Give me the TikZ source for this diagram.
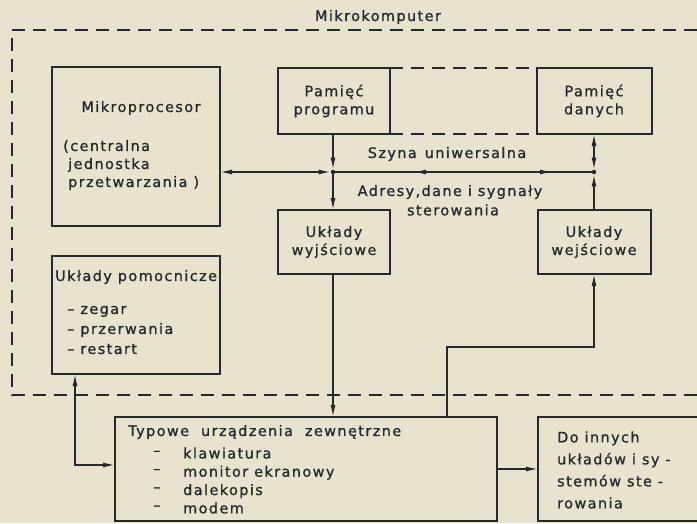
\documentclass[tikz,border=0pt]{standalone}
\usepackage{fontspec}
\setmainfont{DejaVu Sans}[LetterSpace=10,FakeBold=1]
\usetikzlibrary{arrows.meta}
\definecolor{paper}{RGB}{231,227,207}
\definecolor{ink}{RGB}{40,40,40}
\begin{document}
\begin{tikzpicture}[x=1pt,y=-1pt,
  font=\fontsize{14.4}{18}\selectfont,
  box/.style={draw=ink, line width=2pt, inner sep=0pt, outer sep=0pt, text=ink},
  txt/.style={inner sep=0pt, text=ink},
  frame/.style={draw=ink, line width=1.7pt, dash pattern=on 13pt off 8pt},
  arr/.style={draw=ink, line width=1.4pt, -{Latex[length=12pt,width=5pt]}},
  arrtwo/.style={draw=ink, line width=1.4pt, {Latex[length=12pt,width=5pt]}-{Latex[length=12pt,width=5pt]}},
  dot/.style={circle, fill=ink, inner sep=0pt, minimum size=4.5pt}]
\fill[paper] (0,0) rectangle (697,523);
\useasboundingbox (0,0) rectangle (697,523);

\node[txt] (title) at (378,17) {Mikrokomputer};
\draw[frame] (697,30) -- (12,30) -- (12,395) -- (697,395);

\node[box, minimum width=168, minimum height=159] (mp) at (136,146.5) {};
\node[box, minimum width=168, minimum height=118] (up) at (136,315) {};
\node[box, minimum width=112, minimum height=66, align=center] (pp) at (334,101) {Pamięć\\programu};
\node[box, minimum width=115, minimum height=66, align=center] (pd) at (594,101) {Pamięć\\danych};
\node[box, minimum width=112, minimum height=64, align=center] (uw) at (334,242) {Układy\\wyjściowe};
\node[box, minimum width=113, minimum height=64, align=center] (uwe) at (594,242) {Układy\\wejściowe};
\node[box, minimum width=382, minimum height=104] (ty) at (306,469) {};
\node[inner sep=0pt, outer sep=0pt, minimum width=160, minimum height=104] (di) at (618,469) {};
\draw[ink, line width=2pt] (di.north east) -- (di.north west) -- (di.south west) -- (di.south east);

\draw[frame] (pp.north east) -- (pd.north west);
\draw[frame] (pp.south east) -- (pd.south west);

\node[txt] (mpname) at (141,108) {Mikroprocesor};
\node[txt, anchor=west, align=left] (mpdesc) at (63,165) {(centralna\\\hspace*{5pt}jednostka\\\hspace*{5pt}przetwarzania )};
\node[txt, anchor=west] (upname) at (55,277) {Układy pomocnicze};
\node[txt, anchor=west, align=left, font=\fontsize{14.4}{20}\selectfont] (uplist) at (67,330) {-- zegar\\-- przerwania\\-- restart};

\node[txt, anchor=west] (tyname) at (128,432) {Typowe\hspace{12pt}urządzenia\hspace{12pt}zewnętrzne};
\node[txt, anchor=west, align=left, font=\fontsize{14.4}{18.3}\selectfont] (tydash) at (153,480.5) {--\\--\\--\\--};
\node[txt, anchor=west, align=left, font=\fontsize{14.4}{18.3}\selectfont] (tylist) at (183,480.5) {klawiatura\\monitor ekranowy\\dalekopis\\modem};

\node[txt, anchor=west, align=left, font=\fontsize{14.4}{22}\selectfont] (ditext) at (557,470) {Do innych\\układów i sy -\\stemów ste -\\rowania};

\node[txt] (szyna) at (447,154) {Szyna\hspace{8pt}uniwersalna};
\node[txt] (adresy) at (450,192) {Adresy,dane\hspace{6pt}i\hspace{6pt}sygnały};
\node[txt] (sterow) at (453,210) {sterowania};

\node[dot] (j1) at (333,172) {};
\node[dot] (j2) at (594,172) {};
\coordinate (b1) at (414,172);
\coordinate (b2) at (552,172);
\coordinate (c1) at (75,465);
\coordinate (c2) at (447,347);

\draw[arrtwo] (mp.east |- j1) -- (j1);
\draw[arr] (j2) -- (b1);
\draw[arr] (j1) -- (b2);
\draw[arr] (pp.south -| j1) -- (j1);
\draw[arr] (j1) -- (uw.north -| j1);
\draw[arrtwo] (pd.south -| j2) -- (j2);
\draw[arr] (uwe.north -| j2) -- (j2);
\draw[arr] (uw.south -| j1) -- (ty.north -| j1);
\draw[arrtwo] (up.south -| c1) |- (ty.west |- c1);
\draw[arr] (ty.north -| c2) -- (c2) -| (uwe.south -| j2);
\draw[arr] (ty.east) -- (ty.east -| di.west);
\end{tikzpicture}
\end{document}
